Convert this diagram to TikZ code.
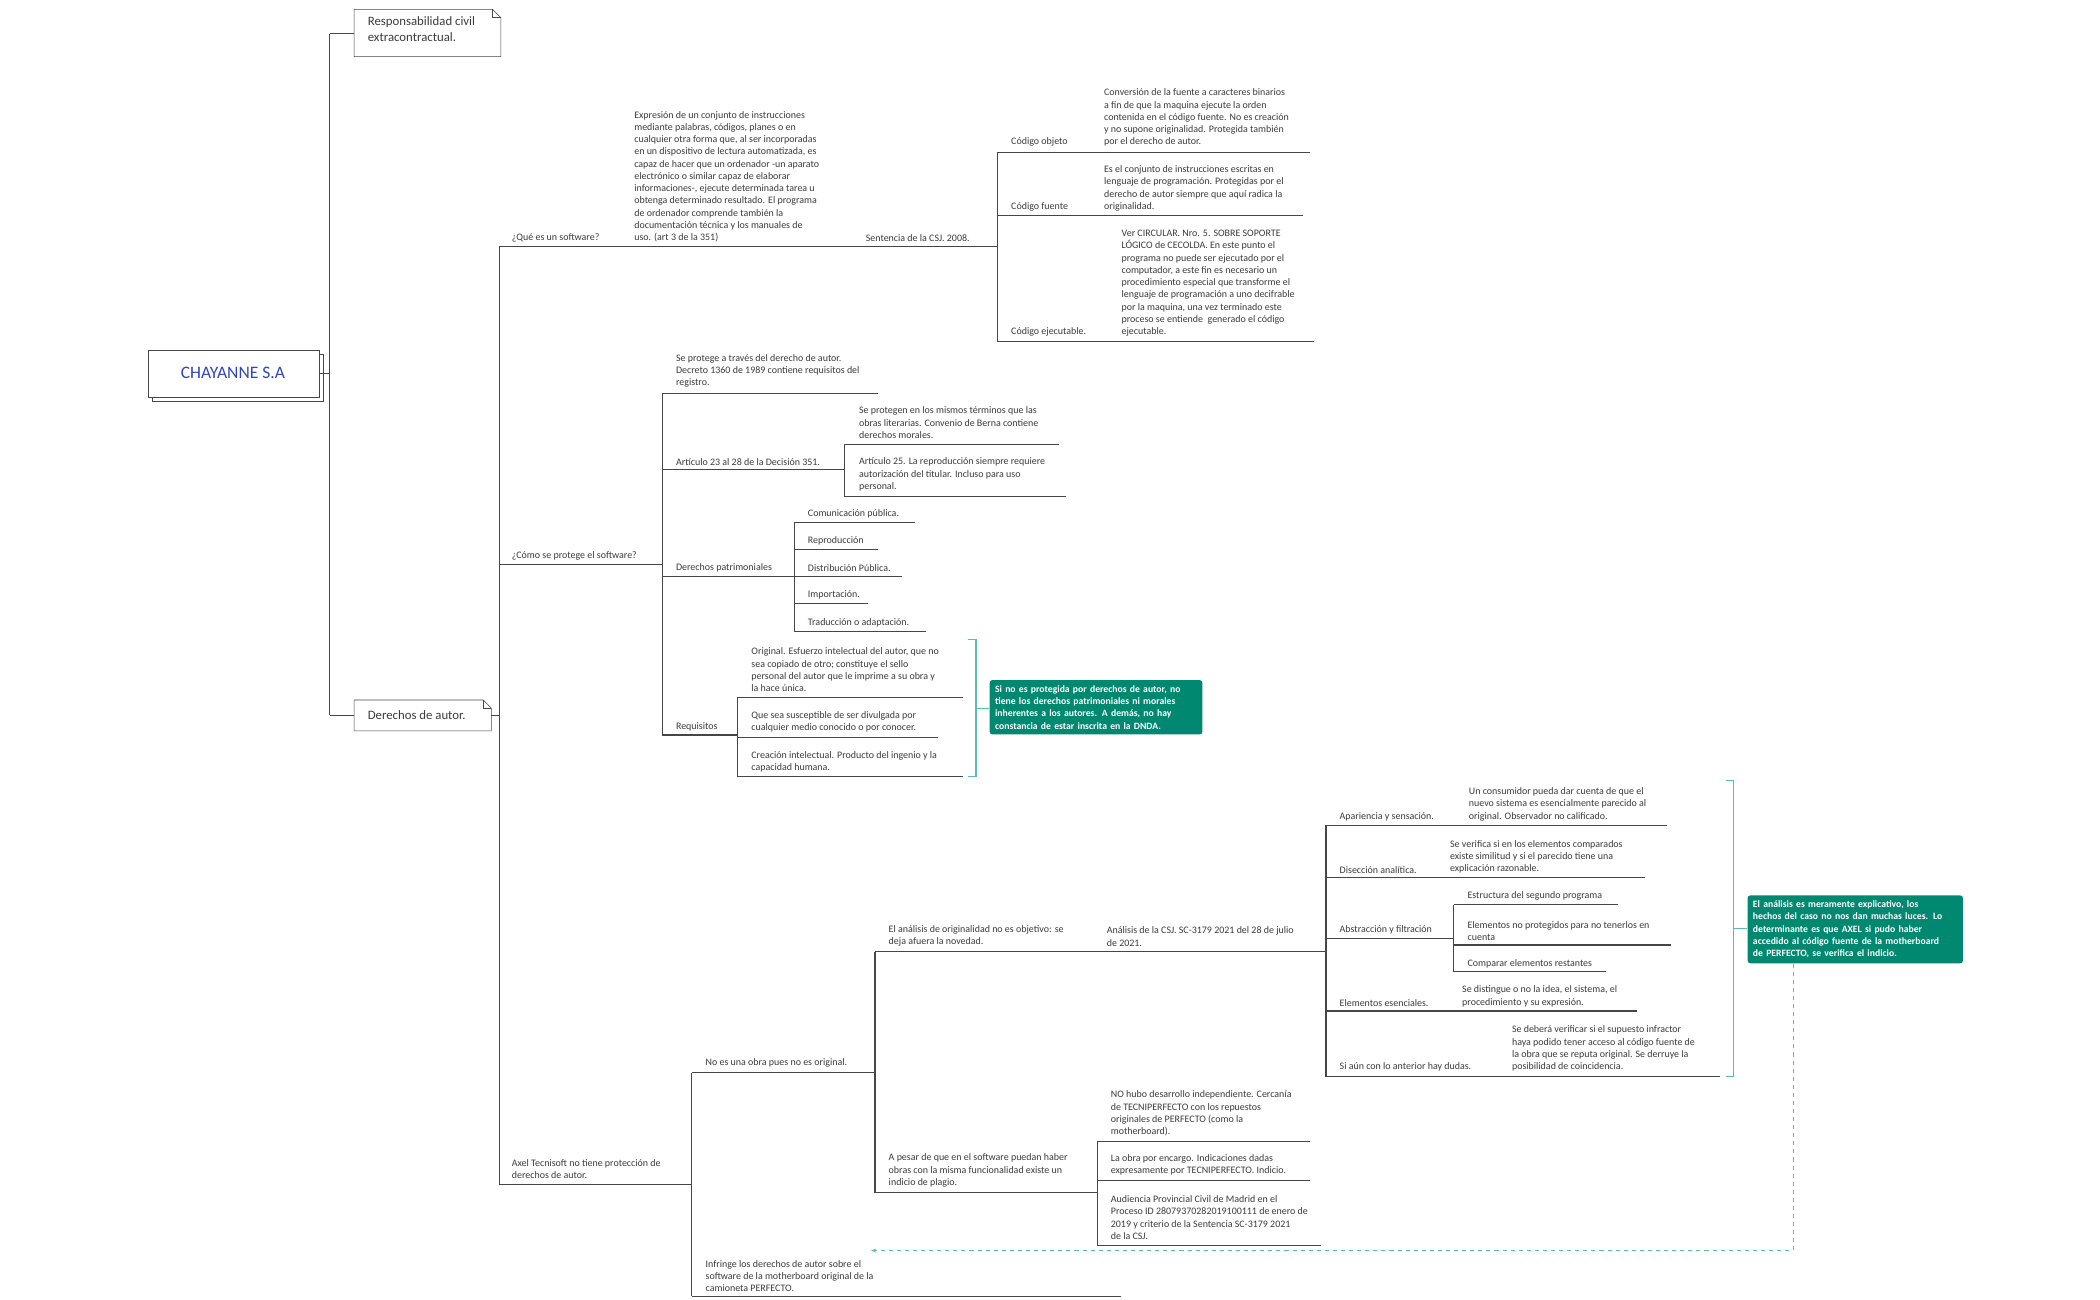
\documentclass[tikz,border=0pt]{standalone}
\usepackage{fontspec}
\usetikzlibrary{arrows.meta}
\setmainfont{Carlito}
\definecolor{tg}{RGB}{60,60,60}
\definecolor{ln}{RGB}{70,70,70}
\definecolor{teal1}{RGB}{0,136,112}
\definecolor{teal2}{RGB}{90,190,170}
\definecolor{rootblue}{RGB}{50,70,180}
\newcommand\mmline[3]{\draw[ln,line width=0.8pt] (#1,#3) -- (#2,#3);}
\newcommand\mmspine[3]{\draw[ln,line width=0.8pt] (#1,#2) -- (#1,#3);}
\begin{document}
\begin{tikzpicture}[x=1pt,y=-1pt,
  t/.style={font=\fontsize{7.4}{9.1}\selectfont, anchor=south west, inner sep=0pt, align=left, text=tg},
  big/.style={font=\fontsize{9.5}{12}\selectfont, anchor=west, inner sep=0pt, align=left, text=tg},
  callout/.style={fill=teal1, rounded corners=2pt, text=white, font=\bfseries\fontsize{7.2}{9.1}\selectfont, align=left, inner sep=4pt, anchor=north west}]
\useasboundingbox (0,0) rectangle (1560,965);
\fill[white] (0,0) rectangle (1560,965);
% root
\draw[ln,fill=white] (113,263) rectangle (240,298);
\draw[ln,fill=white] (110,260) rectangle (237,295);
\node[font=\fontsize{13}{15}\selectfont, text=rootblue] (root) at (173,277) {CHAYANNE S.A};
\draw[ln] (237,277) -- (245,277);
\mmspine{245}{25}{531}
\draw[ln] (245,25) -- (263,25);
\draw[ln] (245,531) -- (263,531);
% level-1 boxes
\draw[ln,fill=white] (263,7) -- (366,7) -- (372,13) -- (372,42) -- (263,42) -- cycle;
\draw[ln] (366,7) -- (366,13) -- (372,13);
\node[big,anchor=north west] (rc) at (273,12) {Responsabilidad civil\\extracontractual.};
\draw[ln,fill=white] (263,520) -- (359,520) -- (365,526) -- (365,543) -- (263,543) -- cycle;
\draw[ln] (359,520) -- (359,526) -- (365,526);
\node[big] (da) at (273,531.5) {Derechos de autor.};
\draw[ln] (365,531) -- (371,531);
\mmspine{371}{183}{880}
% Que es un software
\node[t] (q1) at (380,180) {¿Qué es un software?};
\mmline{371}{455}{183}
\node[t] (q1d) at (471,180) {Expresión de un conjunto de instrucciones\\mediante palabras, códigos, planes o en\\cualquier otra forma que, al ser incorporadas\\en un dispositivo de lectura automatizada, es\\capaz de hacer que un ordenador -un aparato\\electrónico o similar capaz de elaborar\\informaciones-, ejecute determinada tarea u\\obtenga determinado resultado. El programa\\de ordenador comprende también la\\documentación técnica y los manuales de\\uso. (art 3 de la 351)};
\mmline{455}{627}{183}
\node[t] (sent) at (643,180) {Sentencia de la CSJ. 2008.};
\mmline{627}{741}{183}
\mmspine{741}{113}{254}
\node[t] at (751,109) {Código objeto};
\mmline{741}{812}{113}
\node[t] at (820,109) {Conversión de la fuente a caracteres binarios\\a fin de que la maquina ejecute la orden\\contenida en el código fuente. No es creación\\y no supone originalidad. Protegida también\\por el derecho de autor.};
\mmline{812}{973}{113}
\node[t] at (751,157) {Código fuente};
\mmline{741}{812}{160}
\node[t] at (820,157) {Es el conjunto de instrucciones escritas en\\lenguaje de programación. Protegidas por el\\derecho de autor siempre que aquí radica la\\originalidad.};
\mmline{812}{968}{160}
\node[t] at (751,250) {Código ejecutable.};
\mmline{741}{825}{254}
\node[t] at (833,250) {Ver CIRCULAR. Nro. 5. SOBRE SOPORTE\\LÓGICO de CECOLDA. En este punto el\\programa no puede ser ejecutado por el\\computador, a este fin es necesario un\\procedimiento especial que transforme el\\lenguaje de programación a uno decifrable\\por la maquina, una vez terminado este\\proceso se entiende\ \ generado el código\\ejecutable.};
\mmline{825}{976}{254}
% Como se protege
\node[t] (q2) at (380,416) {¿Cómo se protege el software?};
\mmline{371}{492}{419}
\mmspine{492}{292}{546}
\node[t] at (502,288) {Se protege a través del derecho de autor.\\Decreto 1360 de 1989 contiene requisitos del\\registro.};
\mmline{492}{652}{292}
\node[t] at (502,346) {Artículo 23 al 28 de la Decisión 351.};
\mmline{492}{627}{349}
\mmspine{627}{330}{369}
\node[t] at (638,326) {Se protegen en los mismos términos que las\\obras literarias. Convenio de Berna contiene\\derechos morales.};
\mmline{627}{787}{330}
\node[t] at (638,365) {Artículo 25. La reproducción siempre requiere\\autorización del titular. Incluso para uso\\personal.};
\mmline{627}{792}{369}
\node[t] at (502,425) {Derechos patrimoniales};
\mmline{492}{590}{428}
\mmspine{590}{388}{469}
\node[t] at (600,385) {Comunicación pública.};
\mmline{590}{680}{388}
\node[t] at (600,405) {Reproducción};
\mmline{590}{652}{408}
\node[t] at (600,425) {Distribución Pública.};
\mmline{590}{670}{428}
\node[t] at (600,445) {Importación.};
\mmline{590}{645}{448}
\node[t] at (600,466) {Traducción o adaptación.};
\mmline{590}{688}{469}
\node[t] at (502,543) {Requisitos};
\mmline{492}{548}{546}
\mmspine{548}{518}{577}
\node[t] at (558,514) {Original. Esfuerzo intelectual del autor, que no\\sea copiado de otro; constituye el sello\\personal del autor que le imprime a su obra y\\la hace única.};
\mmline{548}{715}{518}
\node[t] at (558,544) {Que sea susceptible de ser divulgada por\\cualquier medio conocido o por conocer.};
\mmline{548}{697}{548}
\node[t] at (558,574) {Creación intelectual. Producto del ingenio y la\\capacidad humana.};
\mmline{548}{715}{577}
\draw[teal2,line width=0.8pt] (719,475) -- (725,475) -- (725,577) -- (719,577);
\draw[teal2,line width=0.8pt] (725,526) -- (735,526);
\node[callout,text width=150pt] (c1) at (735,505) {Si no es protegida por derechos de autor, no\\tiene los derechos patrimoniales ni morales\\inherentes a los autores. A demás, no hay\\constancia de estar inscrita en la DNDA.};
% Axel
\node[t] (q3) at (380,876) {Axel Tecnisoft no tiene protección de\\derechos de autor.};
\mmline{371}{514}{880}
\mmspine{514}{797}{963}
\node[t] at (524,793) {No es una obra pues no es original.};
\mmline{514}{650}{797}
\mmspine{650}{707}{886}
\node[t] at (660,703) {El análisis de originalidad no es objetivo: se\\deja afuera la novedad.};
\mmline{650}{808}{707}
\node[t] at (822,703) {Análisis de la CSJ. SC-3179 2021 del 28 de julio\\de 2021.};
\mmline{808}{985}{707}
\mmspine{985}{613}{800}
\node[t] at (995,610) {Apariencia y sensación.};
\mmline{985}{1078}{613}
\node[t] at (1091,610) {Un consumidor pueda dar cuenta de que el\\nuevo sistema es esencialmente parecido al\\original. Observador no calificado.};
\mmline{1078}{1238}{613}
\node[t] at (995,649) {Disección analítica.};
\mmline{985}{1067}{652}
\node[t] at (1077,649) {Se verifica si en los elementos comparados\\existe similitud y si el parecido tiene una\\explicación razonable.};
\mmline{1067}{1222}{652}
\node[t] at (995,694) {Abstracción y filtración};
\mmline{985}{1080}{697}
\mmspine{1080}{672}{722}
\node[t] at (1090,669) {Estructura del segundo programa};
\mmline{1080}{1202}{672}
\node[t] at (1090,699) {Elementos no protegidos para no tenerlos en\\cuenta};
\mmline{1080}{1241}{702}
\node[t] at (1090,719) {Comparar elementos restantes};
\mmline{1080}{1193}{722}
\node[t] at (995,748) {Elementos esenciales.};
\mmline{985}{1076}{751}
\node[t] at (1086,748) {Se distingue o no la idea, el sistema, el\\procedimiento y su expresión.};
\mmline{1076}{1216}{751}
\node[t] at (995,796) {Si aún con lo anterior hay dudas.};
\mmline{985}{1112}{800}
\node[t] at (1123,796) {Se deberá verificar si el supuesto infractor\\haya podido tener acceso al código fuente de\\la obra que se reputa original. Se derruye la\\posibilidad de coincidencia.};
\mmline{1112}{1278}{800}
\draw[teal2,line width=0.8pt] (1282,580) -- (1288,580) -- (1288,800) -- (1282,800);
\draw[teal2,line width=0.8pt] (1288,690) -- (1298,690);
\node[callout,text width=152pt] (c2) at (1298,665) {El análisis es meramente explicativo, los\\hechos del caso no nos dan muchas luces. Lo\\determinante es que AXEL si pudo haber\\accedido al código fuente de la motherboard\\de PERFECTO, se verifica el indicio.};
\node[t] at (660,882) {A pesar de que en el software puedan haber\\obras con la misma funcionalidad existe un\\indicio de plagio.};
\mmline{650}{815}{886}
\mmspine{815}{848}{925}
\node[t] at (825,844) {NO hubo desarrollo independiente. Cercanía\\de TECNIPERFECTO con los repuestos\\originales de PERFECTO (como la\\motherboard).};
\mmline{815}{973}{848}
\node[t] at (825,873) {La obra por encargo. Indicaciones dadas\\expresamente por TECNIPERFECTO. Indicio.};
\mmline{815}{973}{877}
\node[t] at (825,921) {Audiencia Provincial Civil de Madrid en el\\Proceso ID 28079370282019100111 de enero de\\2019 y criterio de la Sentencia SC-3179 2021\\de la CSJ.};
\mmline{815}{981}{925}
\node[t] at (524,960) {Infringe los derechos de autor sobre el\\software de la motherboard original de la\\camioneta PERFECTO.};
\mmline{514}{833}{963}
\coordinate (arrend) at (647,929);
\coordinate (dcol) at (1332,0);
\draw[teal2,dashed,line width=0.8pt,-{Stealth[length=4pt]}] (c2.south -| dcol) -- (1332,929) -- (arrend);
\end{tikzpicture}
\end{document}
